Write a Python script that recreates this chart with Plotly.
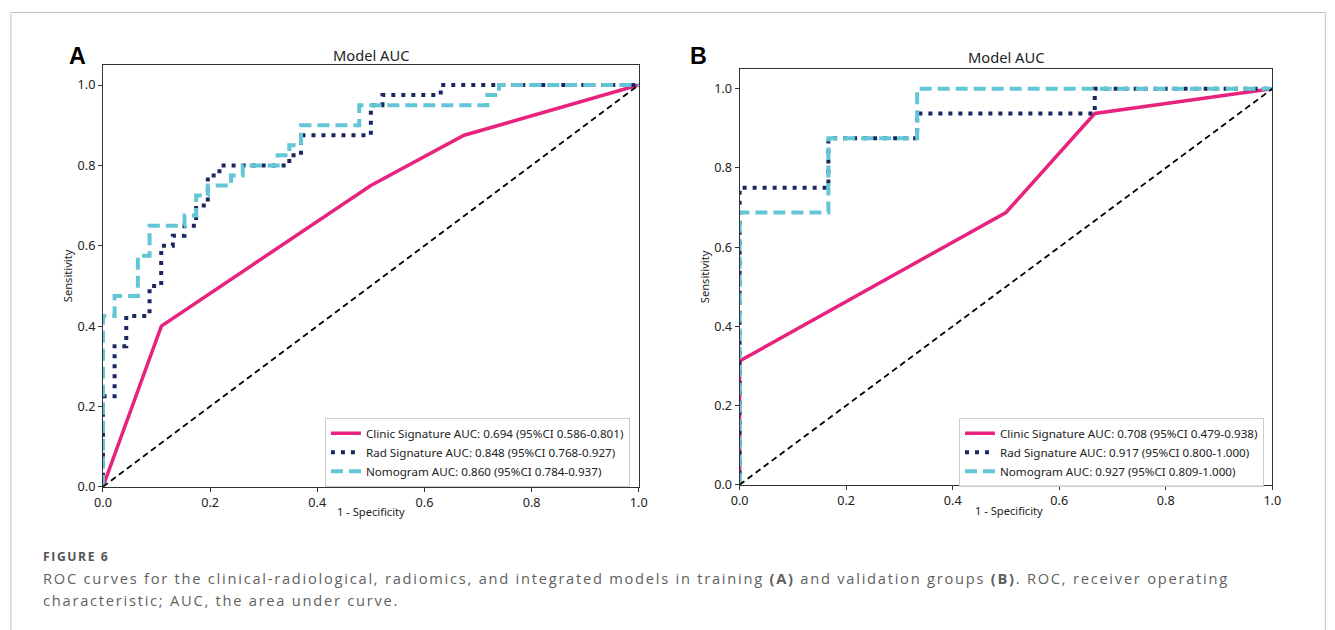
import plotly.graph_objects as go

# Figure size in page pixels. The captured picture is the page scaled by S and
# shifted right by OX, so every placement below is given in picture pixels and
# converted with px()/py().
W, H = 1335, 638
S, OX = 0.988, 7.6

# ---------------- data ----------------
# Panel A (training)
a_clinic_fpr = [0.0, 0.109, 0.500, 0.674, 1.0]
a_clinic_tpr = [0.0, 0.400, 0.750, 0.875, 1.0]

a_rad_fpr = [0.0, 0.0, 0.0217, 0.0217, 0.0435, 0.0435, 0.087, 0.087, 0.1087, 0.1087,
             0.1304, 0.1304, 0.1522, 0.1522, 0.1739, 0.1739, 0.1957, 0.1957, 0.2174, 0.2174,
             0.3478, 0.3478, 0.3696, 0.3696, 0.5, 0.5, 0.5217, 0.5217, 0.6304, 0.6304, 1.0]
a_rad_tpr = [0.0, 0.225, 0.225, 0.35, 0.35, 0.425, 0.425, 0.5, 0.5, 0.6,
             0.6, 0.625, 0.625, 0.65, 0.65, 0.7, 0.7, 0.775, 0.775, 0.8,
             0.8, 0.825, 0.825, 0.875, 0.875, 0.95, 0.95, 0.975, 0.975, 1.0, 1.0]

a_nomo_fpr = [0.0, 0.0, 0.0217, 0.0217, 0.0652, 0.0652, 0.087, 0.087, 0.1522, 0.1522,
              0.1739, 0.1739, 0.1957, 0.1957, 0.2391, 0.2391, 0.2609, 0.2609, 0.3261, 0.3261,
              0.3478, 0.3478, 0.3696, 0.3696, 0.4783, 0.4783, 0.7174, 0.7174, 0.7391, 0.7391, 1.0]
a_nomo_tpr = [0.0, 0.425, 0.425, 0.475, 0.475, 0.575, 0.575, 0.65, 0.65, 0.675,
              0.675, 0.725, 0.725, 0.75, 0.75, 0.775, 0.775, 0.8, 0.8, 0.825,
              0.825, 0.85, 0.85, 0.9, 0.9, 0.95, 0.95, 0.975, 0.975, 1.0, 1.0]

# Panel B (validation)
b_clinic_fpr = [0.0, 0.0, 0.5, 0.6667, 1.0]
b_clinic_tpr = [0.0, 0.3125, 0.6875, 0.9375, 1.0]

b_rad_fpr = [0.0, 0.0, 0.1667, 0.1667, 0.3333, 0.3333, 0.6667, 0.6667, 1.0]
b_rad_tpr = [0.0, 0.75, 0.75, 0.875, 0.875, 0.9375, 0.9375, 1.0, 1.0]

b_nomo_fpr = [0.0, 0.0, 0.1667, 0.1667, 0.3333, 0.3333, 1.0]
b_nomo_tpr = [0.0, 0.6875, 0.6875, 0.875, 0.875, 1.0, 1.0]

diag = [0.0, 1.0]

a_labels = ["Clinic Signature AUC: 0.694 (95%CI 0.586-0.801)",
            "Rad Signature AUC: 0.848 (95%CI 0.768-0.927)",
            "Nomogram AUC: 0.860 (95%CI 0.784-0.937)"]
b_labels = ["Clinic Signature AUC: 0.708 (95%CI 0.479-0.938)",
            "Rad Signature AUC: 0.917 (95%CI 0.800-1.000)",
            "Nomogram AUC: 0.927 (95%CI 0.809-1.000)"]

tick_vals = [0.0, 0.2, 0.4, 0.6, 0.8, 1.0]
tick_text = ["0.0", "0.2", "0.4", "0.6", "0.8", "1.0"]

# ---------------- styles ----------------
PINK = "#e8237e"
NAVY = "#1b2760"
CYAN = "#62c6d6"
FONT = "Noto Sans"
TXT = "#222222"


def px(x):
    return ((x - OX) / S) / W


def py(y):
    return 1 - (y / S) / H


def fs(size):
    return round(size / S, 2)


fig = go.Figure()


def add_panel(xa, ya, leg, fprs, tprs, labels):
    styles = [
        dict(color=PINK, width=3.5, dash="solid"),
        dict(color=NAVY, width=4, dash="4px,6px"),
        dict(color=CYAN, width=4, dash="12px,6px"),
    ]
    for f, t, lab, st in zip(fprs, tprs, labels, styles):
        fig.add_trace(go.Scatter(x=f, y=t, mode="lines", name=lab, line=st,
                                 xaxis=xa, yaxis=ya, legend=leg, hoverinfo="skip"))
    fig.add_trace(go.Scatter(x=diag, y=diag, mode="lines", showlegend=False,
                             line=dict(color="black", width=1.8, dash="6px,4px"),
                             xaxis=xa, yaxis=ya, hoverinfo="skip"))


add_panel("x", "y", "legend",
          [a_clinic_fpr, a_rad_fpr, a_nomo_fpr],
          [a_clinic_tpr, a_rad_tpr, a_nomo_tpr], a_labels)
add_panel("x2", "y2", "legend2",
          [b_clinic_fpr, b_rad_fpr, b_nomo_fpr],
          [b_clinic_tpr, b_rad_tpr, b_nomo_tpr], b_labels)

axis_common = dict(
    showgrid=False, zeroline=False, showline=True, mirror=True,
    linecolor="#333333", linewidth=1, ticks="outside", ticklen=4, tickwidth=1,
    tickcolor="#333333", tickvals=tick_vals, ticktext=tick_text,
    tickfont=dict(family=FONT, size=fs(12.5), color=TXT),
)

leg_common = dict(xanchor="left", yanchor="top",
                  bgcolor="rgba(255,255,255,0.85)", bordercolor="#cccccc", borderwidth=1,
                  font=dict(family=FONT, size=fs(11.5), color=TXT), itemwidth=30, tracegroupgap=0)

fig.update_layout(
    width=W, height=H, margin=dict(l=0, r=0, t=0, b=0),
    paper_bgcolor="white", plot_bgcolor="white",
    xaxis=dict(domain=[px(101.7), px(638.3)], range=[0, 1.0], anchor="y", **axis_common),
    yaxis=dict(domain=[py(487), py(65)], range=[0, 1.05], anchor="x", **axis_common),
    xaxis2=dict(domain=[px(739.3), px(1272.8)], range=[0, 1.0], anchor="y2", **axis_common),
    yaxis2=dict(domain=[py(485), py(69)], range=[0, 1.05], anchor="x2", **axis_common),
    legend=dict(x=px(324), y=py(418), **leg_common),
    legend2=dict(x=px(959), y=py(418), **leg_common),
    showlegend=True,
)

ann = []


def text(x, y, s, size, color=TXT, xanchor="center", angle=0, family=FONT, weight=None):
    f = dict(family=family, size=fs(size), color=color)
    if weight:
        f["weight"] = weight
    ann.append(dict(x=px(x), y=py(y), xref="paper", yref="paper", text=s, showarrow=False,
                    xanchor=xanchor, yanchor="middle", textangle=angle, font=f))


# panel letters
text(76, 56, "A", 23, color="black", family="Liberation Sans", weight="bold")
text(698, 56, "B", 23, color="black", family="Liberation Sans", weight="bold")
# titles
text(370, 55, "Model AUC", 14.5)
text(1006, 57, "Model AUC", 14.5)
# axis titles
text(67, 276, "Sensitivity", 11, angle=-90)
text(704, 277, "Sensitivity", 11, angle=-90)
text(370, 512, "1 - Specificity", 11)
text(1009, 511, "1 - Specificity", 11)
# caption
CAP = "#5f5f5f"
text(39.5, 557, '<span style="letter-spacing:1.6px">FIGURE 6</span>', 12, color="#555555",
     xanchor="left", family="Open Sans", weight="bold")
text(39.5, 578,
     '<span style="letter-spacing:1.74px">ROC curves for the clinical-radiological, radiomics, '
     'and integrated models in training <b>(A)</b> and validation groups <b>(B)</b>. '
     'ROC, receiver operating</span>',
     14.5, color=CAP, xanchor="left", family="Open Sans")
text(39.5, 600,
     '<span style="letter-spacing:1.74px">characteristic; AUC, the area under curve.</span>',
     14.5, color=CAP, xanchor="left", family="Open Sans")

fig.update_layout(annotations=ann)

# outer frame (open at the bottom)
frame = dict(type="line", xref="paper", yref="paper", line=dict(color="#c4c4c4", width=1))
xr = min(px(1333.5), 0.9995)
fig.update_layout(shapes=[
    dict(frame, x0=px(9.5), x1=xr, y0=py(12.5), y1=py(12.5)),
    dict(frame, x0=px(9.5), x1=px(9.5), y0=py(12.5), y1=0),
    dict(frame, x0=xr, x1=xr, y0=py(12.5), y1=0),
])

post = ("document.documentElement.style.margin='0';document.body.style.margin='0';"
        "document.documentElement.style.overflow='hidden';document.body.style.overflow='hidden';")
fig.write_html("out.html", post_script=post)
